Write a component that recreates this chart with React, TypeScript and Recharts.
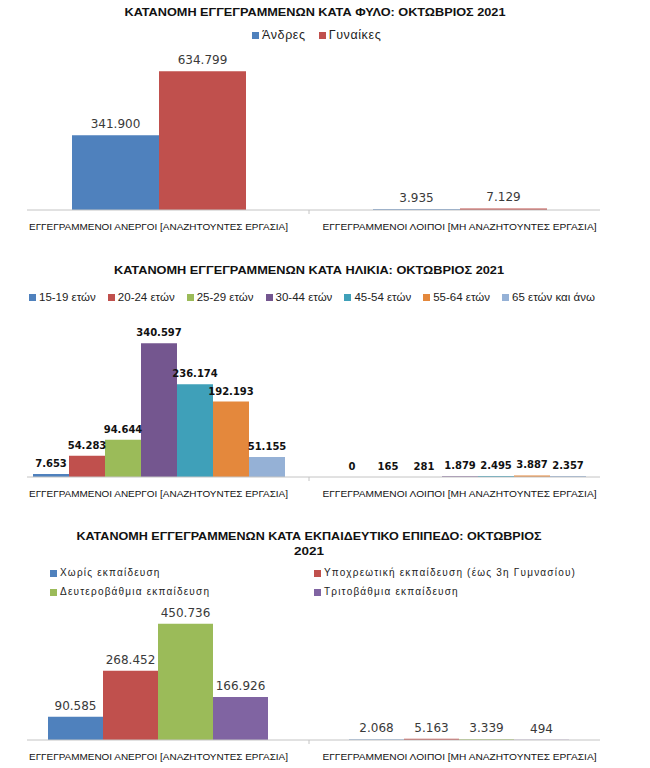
import React from 'react'
import { BarChart, Bar, XAxis, YAxis, LabelList } from 'recharts'

const categories = [
  'ΕΓΓΕΓΡΑΜΜΕΝΟΙ ΑΝΕΡΓΟΙ [ΑΝΑΖΗΤΟΥΝΤΕΣ ΕΡΓΑΣΙΑ]',
  'ΕΓΓΕΓΡΑΜΜΕΝΟΙ ΛΟΙΠΟΙ [ΜΗ ΑΝΑΖΗΤΟΥΝΤΕΣ ΕΡΓΑΣΙΑ]',
]

// φύλο
const genderNames = ['Άνδρες', 'Γυναίκες']
const men = [341900, 3935]
const women = [634799, 7129]

// ηλικία
const ageNames = ['15-19 ετών', '20-24 ετών', '25-29 ετών', '30-44 ετών', '45-54 ετών', '55-64 ετών', '65 ετών και άνω']
const age15_19 = [7653, 0]
const age20_24 = [54283, 165]
const age25_29 = [94644, 281]
const age30_44 = [340597, 1879]
const age45_54 = [236174, 2495]
const age55_64 = [192193, 3887]
const age65 = [51155, 2357]

// εκπαίδευση
const eduNames = ['Χωρίς εκπαίδευση', 'Υποχρεωτική εκπαίδευση (έως 3η Γυμνασίου)', 'Δευτεροβάθμια εκπαίδευση', 'Τριτοβάθμια εκπαίδευση']
const eduNone = [90585, 2068]
const eduCompulsory = [268452, 5163]
const eduSecondary = [450736, 3339]
const eduTertiary = [166926, 494]

const genderColors = ['#4F81BD', '#C0504D']
const ageColors = ['#4F81BD', '#C0504D', '#9BBB59', '#74568F', '#3FA0B9', '#E4883C', '#95B1D6']
const eduColors = ['#4F81BD', '#C0504D', '#9BBB59', '#8064A2']

const fmt = (v: any) => String(v).replace(/\B(?=(\d{3})+(?!\d))/g, '.')

const catWidths = [259, 274]

const CatTick = ({ x, y, payload, index }: any) => (
  <text x={x} y={y + 20} textAnchor="middle" fontSize={8.5} fill="#111" fontFamily="Liberation Sans"
    textLength={catWidths[index]} lengthAdjust="spacingAndGlyphs">
    {payload.value}
  </text>
)

const valueLabel = (style: any) => (p: any) => {
  const { x, y, width, value } = p
  if (x == null) return null
  return (
    <text x={x + width / 2} y={y - 7} textAnchor="middle" {...style}>{fmt(Math.round(value))}</text>
  )
}

function Panel({ top, height, margin, max, gap, series, colors, label }: any) {
  const rows = categories.map((c, i) => {
    const r: any = { name: c }
    series.forEach((s: number[], j: number) => { r['s' + j] = s[i] })
    return r
  })
  return (
    <div style={{ position: 'absolute', left: 0, top, width: 650, height }}>
      <BarChart width={650} height={height} data={rows} margin={margin} barCategoryGap={gap} barGap={0}>
        <XAxis dataKey="name" interval={0} height={30} axisLine={{ stroke: '#c4c4c4' }} tickLine={false} tickSize={0} tickMargin={0}
          padding={{ left: -19, right: -10 }} tick={(p: any) => <CatTick {...p} />} />
        <YAxis hide domain={[0, max]} />
        {series.map((_: any, j: number) => (
          <Bar key={j} dataKey={'s' + j} fill={colors[j]} minPointSize={0.001} isAnimationActive={false}>
            <LabelList dataKey={'s' + j} content={valueLabel(label)} />
          </Bar>
        ))}
      </BarChart>
    </div>
  )
}

const Swatch = ({ color }: any) => (
  <span style={{ display: 'inline-block', width: 7, height: 7, background: color, marginRight: 3 }} />
)

export default function App() {
  return (
    <div style={{ position: 'absolute', left: 0, top: 0, width: 650, height: 768, background: '#fff', overflow: 'hidden', fontFamily: 'Liberation Sans' }}>
      <Panel top={0} height={240} margin={{ top: 57, right: 50, bottom: 0, left: 27 }} max={700000} gap={64}
        series={[men, women]} colors={genderColors}
        label={{ fontSize: 12, fill: '#3a3a3a', fontFamily: 'DejaVu Sans' }} />
      <Panel top={250} height={260} margin={{ top: 70, right: 50, bottom: 3, left: 27 }} max={400000} gap={25}
        series={[age15_19, age20_24, age25_29, age30_44, age45_54, age55_64, age65]} colors={ageColors}
        label={{ fontSize: 10, fill: '#111', fontWeight: 'bold', fontFamily: 'DejaVu Sans' }} />
      <Panel top={515} height={255} margin={{ top: 96, right: 50, bottom: 0, left: 27 }} max={500000} gap={40}
        series={[eduNone, eduCompulsory, eduSecondary, eduTertiary]} colors={eduColors}
        label={{ fontSize: 12, fill: '#3a3a3a', fontFamily: 'DejaVu Sans' }} />

      <svg width={650} height={768} style={{ position: 'absolute', left: 0, top: 0, pointerEvents: 'none' }}>
        <g fontFamily="Liberation Sans" fontWeight="bold" fontSize={11.5} fill="#111" textAnchor="middle">
          <text x={315} y={16} textLength={381} lengthAdjust="spacingAndGlyphs">ΚΑΤΑΝΟΜΗ ΕΓΓΕΓΡΑΜΜΕΝΩΝ ΚΑΤΑ ΦΥΛΟ: ΟΚΤΩΒΡΙΟΣ 2021</text>
          <text x={309} y={274} textLength={390} lengthAdjust="spacingAndGlyphs">ΚΑΤΑΝΟΜΗ ΕΓΓΕΓΡΑΜΜΕΝΩΝ ΚΑΤΑ ΗΛΙΚΙΑ: ΟΚΤΩΒΡΙΟΣ  2021</text>
          <text x={309} y={540} textLength={465} lengthAdjust="spacingAndGlyphs">ΚΑΤΑΝΟΜΗ ΕΓΓΕΓΡΑΜΜΕΝΩΝ ΚΑΤΑ ΕΚΠΑΙΔΕΥΤΙΚΟ ΕΠΙΠΕΔΟ: ΟΚΤΩΒΡΙΟΣ</text>
          <text x={309} y={555} textLength={30} lengthAdjust="spacingAndGlyphs">2021</text>
        </g>
        <g stroke="#c4c4c4">
          <line x1={309} y1={210} x2={309} y2={214} />
          <line x1={309} y1={477} x2={309} y2={481} />
          <line x1={309} y1={740} x2={309} y2={744} />
        </g>
      </svg>

      <div style={{ position: 'absolute', top: 28, left: 252, display: 'flex', gap: 13, fontSize: 12.5, letterSpacing: 0.6, color: '#222', lineHeight: '14px', alignItems: 'center' }}>
        {genderNames.map((n, i) => (
          <span key={n} style={{ display: 'flex', alignItems: 'center' }}><Swatch color={genderColors[i]} />{n}</span>
        ))}
      </div>

      <div style={{ position: 'absolute', top: 290, left: 29, display: 'flex', gap: 12, fontSize: 11.5, color: '#222', lineHeight: '14px', alignItems: 'center' }}>
        {ageNames.map((n, i) => (
          <span key={n} style={{ display: 'flex', alignItems: 'center' }}><Swatch color={ageColors[i]} />{n}</span>
        ))}
      </div>

      <div style={{ position: 'absolute', top: 566, left: 50, display: 'grid', gridTemplateColumns: '264px 320px', rowGap: 5, fontSize: 10, letterSpacing: 1.2, color: '#222', lineHeight: '14px' }}>
        {eduNames.map((n, i) => (
          <span key={n} style={{ display: 'flex', alignItems: 'center' }}><Swatch color={eduColors[i]} />{n}</span>
        ))}
      </div>
    </div>
  )
}
